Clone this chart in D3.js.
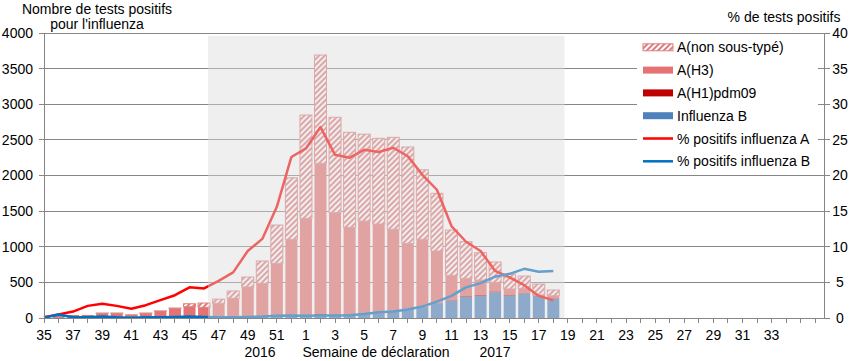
<!DOCTYPE html>
<html><head><meta charset="utf-8">
<script src="https://cdn.jsdelivr.net/npm/d3@7/dist/d3.min.js"></script>
<style>
body{margin:0;background:#fff;}
svg{display:block;font-family:"Liberation Sans",Arial,sans-serif;}
</style></head>
<body><svg id="c" width="856" height="361"></svg>
<script>
// Categories: weeks of declaration (2016 wk35 .. 2017 wk36)
const weeks = [35,36,37,38,39,40,41,42,43,44,45,46,47,48,49,50,51,52,
  1,2,3,4,5,6,7,8,9,10,11,12,13,14,15,16,17,18,19,20,21,22,23,24,25,26,27,28,29,30,31,32,33,34,35,36];
const labeledWeeks = [35,37,39,41,43,45,47,49,51,1,3,5,7,9,11,13,15,17,19,21,23,25,27,29,31,33];
// Data weeks 35 (2016) .. 18 (2017)
const influenzaB   = [5,10,10,8,12,10,8,8,10,12,15,15,18,20,25,25,30,35,30,40,40,45,50,65,89,112,150,206,243,299,309,360,313,346,309,276];
const aH1pdm09     = [0,0,0,0,2,2,0,2,2,2,3,3,2,3,3,3,5,5,8,15,10,10,10,8,8,10,8,8,8,10,12,15,10,12,8,5];
const aH3          = [15,32,32,34,52,54,34,56,86,122,141,132,186,253,407,459,732,1064,1361,2116,1428,1218,1301,1246,1148,926,947,726,348,248,212,126,84,58,6,32];
const aNonSousType = [5,0,0,0,4,4,3,4,2,4,41,60,59,103,140,313,538,864,1450,1520,1339,1333,1219,1203,1291,1352,975,810,636,514,384,285,210,173,154,80];
const pctA = [0.1,0.5,0.9,1.7,2.0,1.7,1.3,1.8,2.5,3.2,4.3,4.15,5.2,6.4,9.4,11.1,15.6,22.6,23.8,26.8,22.9,22.5,23.6,23.3,23.9,22.7,20.1,18.0,12.9,10.7,9.4,6.6,5.7,4.6,3.1,2.5];
const pctB = [0.05,0.5,0.1,0.1,0.2,0.1,0.05,0.1,0.1,0.15,0.2,0.15,0.1,0.1,0.15,0.2,0.3,0.35,0.3,0.35,0.35,0.4,0.55,0.8,0.9,1.2,1.6,2.3,3.1,4.3,4.9,5.8,6.2,6.9,6.5,6.6];
const leftTicks = [0,500,1000,1500,2000,2500,3000,3500,4000];
const rightTicks = [0,5,10,15,20,25,30,35,40];
// epidemic period shading (category positions) and its top value
const shadeFrom = 11.27, shadeTo = 35.77, shadeTop = 3960;
const legendItems = ["A(non sous-typé)","A(H3)","A(H1)pdm09","Influenza B","% positifs influenza A","% positifs influenza B"];

const C = {h3:"#E67373", h1:"#C00000", b:"#4F81BD", lineA:"#FF0000", lineB:"#0070C0", grid:"#868686"};

const svg = d3.select("#c");
const L = 44, R = 824, T = 33, B = 318;
const x = d3.scaleLinear().domain([0, 53.6]).range([L, R]);
const y = d3.scaleLinear().domain([0, 4000]).range([B, T]);
const y2 = d3.scaleLinear().domain([0, 40]).range([B, T]);

const defs = svg.append("defs");
const pat = defs.append("pattern").attr("id","hatch").attr("patternUnits","userSpaceOnUse")
  .attr("width",4).attr("height",4).attr("patternTransform","rotate(45)");
pat.append("rect").attr("width",4).attr("height",4).attr("fill","#fff");
pat.append("rect").attr("width",2).attr("height",4).attr("fill","#E07A7A");
defs.append("clipPath").attr("id","plot").append("rect").attr("x",L).attr("y",T).attr("width",R-L).attr("height",B-T);

// gridlines
svg.append("g").selectAll("line").data(leftTicks.slice(1)).join("line")
  .attr("x1",L).attr("x2",R).attr("y1",d=>y(d)).attr("y2",d=>y(d))
  .attr("stroke",C.grid).attr("stroke-width",1).attr("shape-rendering","crispEdges");

// stacked bars
const keys = ["b","h1","h3","ns"];
const rows = influenzaB.map((v,i)=>({i, b:v, h1:aH1pdm09[i], h3:aH3[i], ns:aNonSousType[i]}));
const stack = d3.stack().keys(keys)(rows);
const bw = 12;
const fills = {b:C.b, h1:C.h1, h3:C.h3, ns:"url(#hatch)"};
const gb = svg.append("g").attr("clip-path","url(#plot)");
stack.forEach(s=>{
  gb.append("g").selectAll("rect").data(s).join("rect")
    .attr("x",d=>x(d.data.i)-bw/2).attr("width",bw)
    .attr("y",d=>y(d[1])).attr("height",d=>Math.max(0,y(d[0])-y(d[1])))
    .attr("fill",fills[s.key])
    .attr("stroke", s.key==="ns" ? "#DC8080" : "none")
    .attr("stroke-width", s.key==="ns" ? 1 : 0);
});

// lines
const lineA = d3.line().x((d,i)=>x(i)).y(d=>y2(d));
svg.append("path").datum(pctA).attr("d",lineA).attr("fill","none").attr("stroke",C.lineA).attr("stroke-width",2.5).attr("stroke-linejoin","round");
svg.append("path").datum(pctB).attr("d",lineA).attr("fill","none").attr("stroke",C.lineB).attr("stroke-width",2.5).attr("stroke-linejoin","round");

// shading overlay
svg.append("rect").attr("x",x(shadeFrom)).attr("width",x(shadeTo)-x(shadeFrom))
  .attr("y",y(shadeTop)).attr("height",y(0)-y(shadeTop))
  .attr("fill","rgb(220,220,220)").attr("fill-opacity",0.45);

// axes
const ax = svg.append("g").attr("stroke",C.grid).attr("stroke-width",1).attr("shape-rendering","crispEdges");
ax.append("line").attr("x1",L).attr("x2",L).attr("y1",T).attr("y2",B);
ax.append("line").attr("x1",R).attr("x2",R).attr("y1",T).attr("y2",B);
ax.append("line").attr("x1",L).attr("x2",R).attr("y1",B).attr("y2",B);
ax.selectAll(".lt").data(leftTicks).join("line").attr("x1",L-5).attr("x2",L).attr("y1",d=>y(d)).attr("y2",d=>y(d));
ax.selectAll(".rt").data(rightTicks).join("line").attr("x1",R-6).attr("x2",R+6).attr("y1",d=>y2(d)).attr("y2",d=>y2(d));
ax.selectAll(".xt").data(d3.range(0,54)).join("line").attr("x1",d=>x(d)).attr("x2",d=>x(d)).attr("y1",B).attr("y2",B+5);

const txt = svg.append("g").attr("font-size",14).attr("fill","#000");
txt.selectAll(".ly").data(leftTicks).join("text").attr("x",33).attr("y",d=>y(d)).attr("dy","0.35em").attr("text-anchor","end").text(d=>d);
txt.selectAll(".ry").data(rightTicks).join("text").attr("x",840).attr("y",d=>y2(d)).attr("dy","0.35em").attr("text-anchor","middle").text(d=>d);
const labIdx = labeledWeeks.map((w,k)=> {
  const idx = k<9 ? weeks.indexOf(w) : weeks.indexOf(w, 18);
  return {w, idx};
});
txt.selectAll(".xl").data(labIdx).join("text").attr("x",d=>x(d.idx)).attr("y",340).attr("text-anchor","middle").text(d=>d.w);
txt.append("text").attr("x",260).attr("y",357).attr("text-anchor","middle").text("2016");
txt.append("text").attr("x",376).attr("y",357).attr("text-anchor","middle").text("Semaine de déclaration");
txt.append("text").attr("x",495).attr("y",357).attr("text-anchor","middle").text("2017");
txt.append("text").attr("x",97).attr("y",14).attr("text-anchor","middle").text("Nombre de tests positifs");
txt.append("text").attr("x",97).attr("y",29).attr("text-anchor","middle").text("pour l'influenza");
txt.append("text").attr("x",784).attr("y",22).attr("text-anchor","middle").text("% de tests positifs");

// legend
const lg = svg.append("g");
lg.append("rect").attr("x",637).attr("y",35).attr("width",181).attr("height",137).attr("fill","#fff");
legendItems.forEach((name,k)=>{
  const cy = 47.3 + k*22.8;
  if (k<4) {
    const f = [ "url(#hatch)", C.h3, C.h1, C.b ][k];
    lg.append("rect").attr("x",643).attr("y",cy-3.5).attr("width",30).attr("height",7).attr("fill",f)
      .attr("stroke", k===0 ? "#DC8080" : "none").attr("stroke-width",1);
  } else {
    lg.append("line").attr("x1",643).attr("x2",673).attr("y1",cy).attr("y2",cy)
      .attr("stroke", k===4 ? C.lineA : C.lineB).attr("stroke-width",2.5);
  }
  lg.append("text").attr("x",677).attr("y",cy).attr("dy","0.36em").attr("font-size",14).text(name);
});
</script></body></html>
